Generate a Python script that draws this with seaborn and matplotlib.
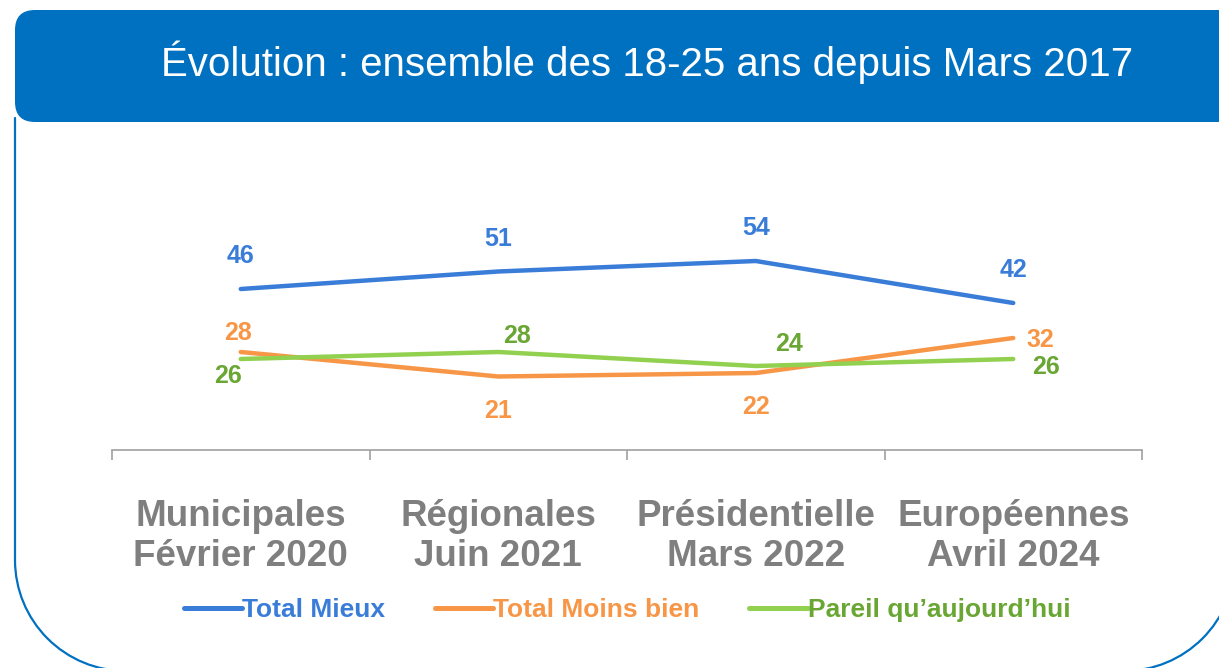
import numpy as np
import pandas as pd
import matplotlib
matplotlib.use("Agg")
import matplotlib.pyplot as plt
import matplotlib.transforms as mtransforms
from matplotlib.patches import FancyBboxPatch, Arc
from matplotlib.lines import Line2D
import seaborn as sns

# ---- data ----
categories = ["Municipales\nFévrier 2020", "Régionales\nJuin 2021",
              "Présidentielle\nMars 2022", "Européennes\nAvril 2024"]
series_names = ["Total Mieux", "Total Moins bien", "Pareil qu’aujourd’hui"]
total_mieux = [46, 51, 54, 42]
total_moins_bien = [28, 21, 22, 32]
pareil = [26, 28, 24, 26]
title = "Évolution : ensemble des 18-25 ans depuis Mars 2017"

# ---- styling ----
line_colors = ["#3A7DD8", "#F79646", "#92D050"]
text_colors = ["#3A7DD8", "#F79646", "#6AA633"]
# label offsets in pixels (dx right, dy down) per series / point
label_offsets = [
    [(0, -33), (0, -33), (0, -33), (0, -33)],
    [(-3, -19), (0, 35), (0, 34), (27, 2)],
    [(-13, 17), (19, -16), (33, -22), (33, 8)],
]

sns.set_theme(style="white")
plt.rcParams["font.family"] = ["Liberation Sans", "DejaVu Sans"]

W, H = 1219, 668
fig = plt.figure(figsize=(W / 100, H / 100), dpi=100)
fig.patch.set_facecolor("white")

ident = mtransforms.IdentityTransform()
border_col = "#0070C0"
R = 111
# panel border: left edge + two large rounded bottom corners
fig.add_artist(Line2D([15, 15], [H - 118, H - 560], color=border_col, linewidth=1.6,
                      transform=ident, zorder=1))
fig.add_artist(Arc((15 + R, H - 560), 2 * R, 2 * R, theta1=180, theta2=270,
                   color=border_col, linewidth=1.6, transform=ident, zorder=1))
fig.add_artist(Arc((1235 - R, H - 560), 2 * R, 2 * R, theta1=270, theta2=360,
                   color=border_col, linewidth=1.6, transform=ident, zorder=1))
# header banner
banner = FancyBboxPatch((15, H - 122), 1240, 112, boxstyle="round,pad=0,rounding_size=20",
                        facecolor=border_col, edgecolor="none", transform=ident, zorder=2)
fig.add_artist(banner)
fig.text(647.5 / W, 1 - 76 / H, title, ha="center", va="baseline",
         color="white", fontsize=29, zorder=3)

ax = fig.add_axes([112 / W, (H - 450) / H, 1030 / W, 350 / H])
ax.set_facecolor("none")

values = [total_mieux, total_moins_bien, pareil]
df = pd.DataFrame({
    "pos": np.tile(np.arange(len(categories)), len(series_names)),
    "value": np.concatenate(values),
    "serie": np.repeat(series_names, len(categories)),
})
sns.lineplot(data=df, x="pos", y="value", hue="serie", hue_order=series_names,
             palette=line_colors, linewidth=3.2, sort=False, errorbar=None, ax=ax)
for ln in ax.get_lines():
    ln.set_solid_capstyle("round")
    ln.set_solid_joinstyle("round")

handles, labels = ax.get_legend_handles_labels()
if ax.get_legend() is not None:
    ax.get_legend().remove()

ax.set_xlim(-0.5, len(categories) - 0.5)
ax.set_ylim(0, 100)

# data labels
for vals, col, offs in zip(values, text_colors, label_offsets):
    for i, v in enumerate(vals):
        dx, dy = offs[i]
        ax.annotate(str(v), (i, v), xytext=(dx * 0.72, -dy * 0.72),
                    textcoords="offset points", ha="center", va="center",
                    fontsize=18, fontweight="bold", color=col)

# axes styling
for s in ["left", "right", "top"]:
    ax.spines[s].set_visible(False)
ax.spines["bottom"].set_color("#A0A0A0")
ax.spines["bottom"].set_linewidth(1.2)
ax.set_yticks([])
ax.set_xlabel("")
ax.set_ylabel("")
ax.set_xticks(np.arange(len(categories) + 1) - 0.5)
ax.set_xticklabels([])
ax.set_xticks(np.arange(len(categories)), minor=True)
ax.set_xticklabels(categories, minor=True, fontsize=26.5, fontweight="bold",
                   color="#7F7F7F", linespacing=1.2)
ax.tick_params(axis="x", which="major", length=7.2, width=1.2, color="#A0A0A0",
               direction="out", bottom=True)
ax.tick_params(axis="x", which="minor", length=0, pad=35)

leg = fig.legend(handles, labels, loc="center", bbox_to_anchor=(627 / W, 1 - 610 / H),
                 ncol=3, frameon=False, handlelength=2.2, handletextpad=0.0,
                 columnspacing=1.9, prop={"weight": "bold", "size": 19})
for t, c in zip(leg.get_texts(), text_colors):
    t.set_color(c)
for lh in leg.get_lines():
    lh.set_linewidth(3.6)
    lh.set_solid_capstyle("round")

fig.savefig("out.png", dpi=100)
